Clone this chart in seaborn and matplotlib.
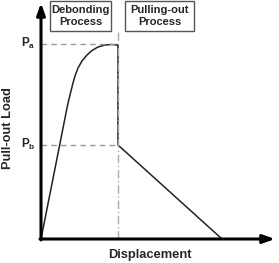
import matplotlib
matplotlib.use("Agg")
import matplotlib.pyplot as plt
from matplotlib.patches import Rectangle
import seaborn as sns
import pandas as pd

# Schematic pull-out curve (units: arbitrary displacement / load)
disp = [0, 26, 28, 30, 32, 34, 37, 41, 46, 51, 57, 64, 70, 77, 77, 181]
load = [0, 131, 140, 148, 156, 163, 171, 178, 184, 188.5, 192, 194, 194.5, 194, 94, 0]
Pa = 195
Pb = 94
x_split = 77
x_max = 234
y_max = 236

sns.set_style("white")
plt.rcParams['font.family'] = ['Liberation Sans', 'DejaVu Sans']

fig = plt.figure(figsize=(2.79, 2.63), dpi=100)
ax = fig.add_axes([0, 0, 1, 1])
ax.set_xlim(-41, 238)
ax.set_ylim(-24, 239)
for s in ax.spines.values():
    s.set_visible(False)
ax.set_xticks([])
ax.set_yticks([])

df = pd.DataFrame({"Displacement": disp, "Load": load})
sns.lineplot(data=df, x="Displacement", y="Load", sort=False, estimator=None,
             ax=ax, color="#222222", linewidth=1.1)
ax.set_xlabel("")
ax.set_ylabel("")

# reference lines
ax.plot([0, x_split], [Pa, Pa], ls=(0, (4, 3)), color="#999999", lw=1.0)
ax.plot([0, x_split], [Pb, Pb], ls=(0, (4, 3)), color="#999999", lw=1.0)
ax.plot([x_split, x_split], [0, 209], ls=(0, (6, 2, 1, 2)), color="#aaaaaa", lw=1.0)

# axes arrows
ax.annotate("", xy=(0, y_max), xytext=(0, -1),
            arrowprops=dict(arrowstyle="-|>,head_length=0.7,head_width=0.25",
                            color="black", lw=2.2, shrinkA=0, shrinkB=0))
ax.annotate("", xy=(x_max, 0), xytext=(-1, 0),
            arrowprops=dict(arrowstyle="-|>,head_length=0.7,head_width=0.25",
                            color="black", lw=2.2, shrinkA=0, shrinkB=0))

# labels
ax.text(-13, Pa + 1, r"P$_\mathregular{a}$", ha="center", va="center",
        fontsize=8.5, fontweight="bold")
ax.text(-13, Pb + 1, r"P$_\mathregular{b}$", ha="center", va="center",
        fontsize=8.5, fontweight="bold")
ax.text(108.5, -16, "Displacement", ha="center", va="center",
        fontsize=9.3, fontweight="bold")
ax.text(-32.5, 111, "Pull-out Load", ha="center", va="center", rotation=90,
        fontsize=9.3, fontweight="bold")

# process boxes
ax.add_patch(Rectangle((9, 208), 61, 30, fc="white", ec="#555555", lw=1.0, zorder=3))
ax.add_patch(Rectangle((84, 208), 69, 30, fc="white", ec="#555555", lw=1.0, zorder=3))
ax.text(39.5, 223, "Debonding\nProcess", ha="center", va="center",
        fontsize=8, fontweight="bold", linespacing=1.3, zorder=4)
ax.text(118.5, 223, "Pulling-out\nProcess", ha="center", va="center",
        fontsize=8, fontweight="bold", linespacing=1.3, zorder=4)

fig.savefig("out.png", dpi=100)
